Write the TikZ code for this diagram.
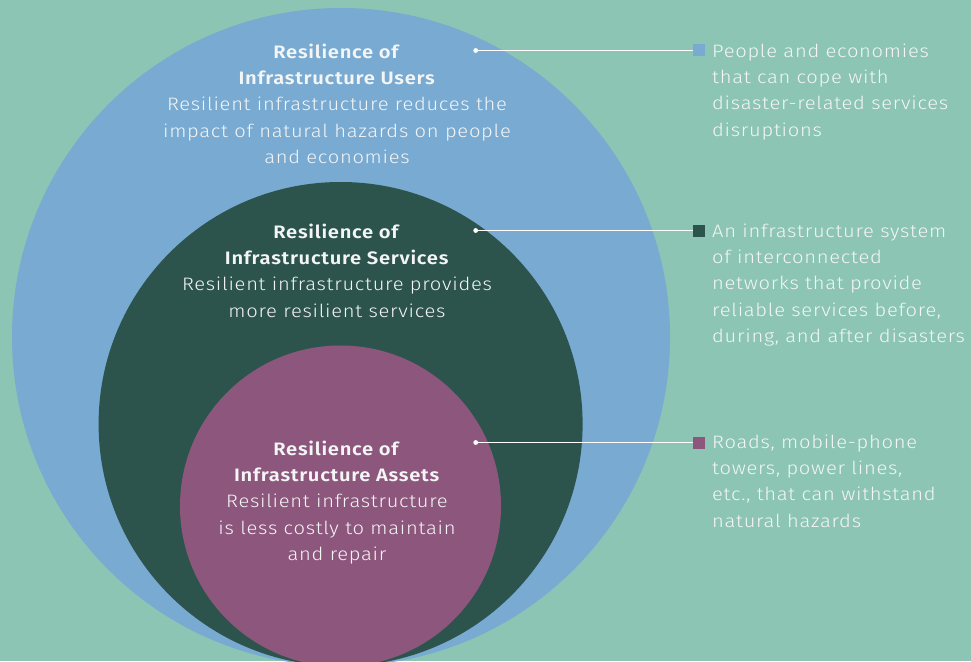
\documentclass[tikz,border=0pt]{standalone}
\usepackage{fontspec}
\setmainfont{Fira Sans}[UprightFont=* Light, BoldFont=* SemiBold, FakeStretch=1.12, LetterSpace=4]
\definecolor{bgc}{RGB}{140,197,179}
\definecolor{usersc}{RGB}{120,170,210}
\definecolor{servc}{RGB}{44,84,77}
\definecolor{assetc}{RGB}{141,87,125}
\definecolor{txtc}{RGB}{244,245,245}
\tikzset{
  ring/.style={circle, inner sep=0pt, draw=none},
  blocktext/.style={align=center, text=txtc, inner sep=0pt, font=\fontsize{18}{26.3}\selectfont},
  sidetext/.style={align=left, text=txtc, inner sep=0pt, anchor=north west, font=\fontsize{18}{26.3}\selectfont},
  marker/.style={rectangle, minimum size=12pt, inner sep=0pt},
  leader/.style={draw=white, line width=1.2pt},
  dotmark/.style={fill=white}
}
\begin{document}
\begin{tikzpicture}[x=1pt,y=-1pt]
\fill[bgc] (0,0) rectangle (971,661);
\useasboundingbox (0,0) rectangle (971,661);
\node[ring, fill=usersc, minimum size=658pt] (users) at (341,337) {};
\node[ring, fill=servc, minimum size=484pt] (serv) at (340.6,424) {};
\node[ring, fill=assetc, minimum size=321pt] (asset) at (340.5,506) {};

\node[blocktext, anchor=north] (tusers) at (337,43.5) {\textbf{Resilience of}\\\textbf{Infrastructure Users}\\Resilient infrastructure reduces the\\impact of natural hazards on people\\and economies};
\node[blocktext, anchor=north] (tserv) at (337,223.5) {\textbf{Resilience of}\\\textbf{Infrastructure Services}\\Resilient infrastructure provides\\more resilient services};
\node[blocktext, anchor=north] (tasset) at (337,440.5) {\textbf{Resilience of}\\\textbf{Infrastructure Assets}\\Resilient infrastructure\\is less costly to maintain\\and repair};

\coordinate (d1) at (475.7,50.5);
\coordinate (d2) at (475.7,230.5);
\coordinate (d3) at (475.7,442.5);
\node[marker, fill=usersc] (m1) at (699,50.5) {};
\node[marker, fill=servc] (m2) at (699,230.5) {};
\node[marker, fill=assetc] (m3) at (699,442.5) {};
\draw[leader] (d1) -- (m1.west);
\draw[leader] (d2) -- (m2.west);
\draw[leader] (d3) -- (m3.west);
\fill[dotmark] (d1) circle (2.4pt);
\fill[dotmark] (d2) circle (2.4pt);
\fill[dotmark] (d3) circle (2.4pt);

\node[sidetext] (s1) at (712,43.5) {People and economies\\that can cope with\\disaster-related services\\disruptions};
\node[sidetext] (s2) at (712,223.5) {An infrastructure system\\of interconnected\\networks that provide\\reliable services before,\\during, and after disasters};
\node[sidetext] (s3) at (712,434.5) {Roads, mobile-phone\\towers, power lines,\\etc., that can withstand\\natural hazards};
\end{tikzpicture}
\end{document}
